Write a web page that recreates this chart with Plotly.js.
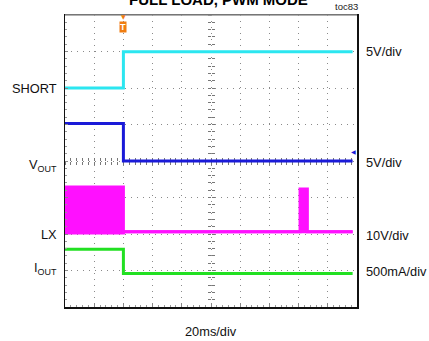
<!DOCTYPE html>
<html>
<head>
<meta charset="utf-8">
<script src="https://cdn.plot.ly/plotly-3.0.1.min.js"></script>
<style>html,body{margin:0;padding:0;background:#fff;}#chart{width:429px;height:341px;}</style>
</head>
<body>
<div id="chart"></div>
<script>
// Time in ms (20 ms/div, 10 divisions); levels in screen divisions (-4..4)
const short_t = [0, 40, 40, 197];
const short_v = [2.0, 2.0, 2.99, 2.99];
const vout_t = [0, 40, 40, 197];
const vout_v = [1.03, 1.03, 0.0, 0.0];
const lx_t = [0, 40, 40, 161, 161, 166, 166, 197];
const lx_lo = [-1.97, -1.97, -1.94, -1.94, -1.95, -1.95, -1.94, -1.94];
const lx_hi = [-0.71, -0.71, -1.94, -1.94, -0.77, -0.77, -1.94, -1.94];
const iout_t = [0, 40, 40, 197];
const iout_v = [-2.42, -2.42, -3.08, -3.08];

const leftLabels = ['SHORT', 'V<sub>OUT</sub>', 'LX', 'I<sub>OUT</sub>'];
const leftLabelY = [2.0, -0.12, -2.0, -2.95];
const rightLabels = ['5V/div', '5V/div', '10V/div', '500mA/div'];
const rightLabelY = [3.0, -0.05, -2.05, -3.04];

const FONT = 'Liberation Sans, Arial, sans-serif';

const traces = [
  {x: short_t, y: short_v, mode: 'lines', line: {color: '#2BE6F0', width: 3}, hoverinfo: 'skip'},
  {x: vout_t, y: vout_v, mode: 'lines', line: {color: '#1A1AD8', width: 3}, hoverinfo: 'skip'},
  {x: lx_t, y: lx_lo, mode: 'lines', line: {color: '#FF10FF', width: 3}, hoverinfo: 'skip'},
  {x: lx_t, y: lx_hi, mode: 'lines', line: {color: '#FF10FF', width: 3}, fill: 'tonexty', fillcolor: '#FF10FF', hoverinfo: 'skip'},
  {x: iout_t, y: iout_v, mode: 'lines', line: {color: '#22E022', width: 3}, hoverinfo: 'skip'},
  // dummy traces to register centre graticule axes
  {x: [0], y: [0], xaxis: 'x2', yaxis: 'y', mode: 'markers', marker: {size: 0, opacity: 0}, hoverinfo: 'skip'},
  {x: [0], y: [0], xaxis: 'x3', yaxis: 'y', mode: 'markers', marker: {size: 0, opacity: 0}, hoverinfo: 'skip'},
  {x: [0], y: [0], xaxis: 'x', yaxis: 'y2', mode: 'markers', marker: {size: 0, opacity: 0}, hoverinfo: 'skip'},
  {x: [0], y: [0], xaxis: 'x', yaxis: 'y3', mode: 'markers', marker: {size: 0, opacity: 0}, hoverinfo: 'skip'}
];

const centerX = (ticks) => ({
  overlaying: 'x', anchor: 'free', position: 0.5, range: [0, 200],
  showgrid: false, zeroline: false, showline: false, showticklabels: false,
  ticks: ticks, ticklen: 3, tickcolor: '#777', tick0: 0, dtick: 4, layer: 'below traces'
});
const centerY = (ticks) => ({
  overlaying: 'y', anchor: 'free', position: 0.5, range: [-4, 4],
  showgrid: false, zeroline: false, showline: false, showticklabels: false,
  ticks: ticks, ticklen: 3, tickcolor: '#777', tick0: 0, dtick: 0.2, layer: 'below traces'
});

const annotations = [];
leftLabels.forEach((t, i) => annotations.push({
  text: t, xref: 'paper', yref: 'y', x: 0, y: leftLabelY[i], xanchor: 'right', yanchor: 'middle',
  xshift: -6, showarrow: false, font: {family: FONT, size: 12.8, color: '#111'}
}));
rightLabels.forEach((t, i) => annotations.push({
  text: t, xref: 'paper', yref: 'y', x: 1, y: rightLabelY[i], xanchor: 'left', yanchor: 'middle',
  xshift: 7, showarrow: false, font: {family: FONT, size: 12.8, color: '#111'}
}));
annotations.push({text: '<b>FULL LOAD, PWM MODE</b>', xref: 'paper', yref: 'paper', x: 0.524, y: 1.017,
  xanchor: 'center', yanchor: 'bottom', showarrow: false, font: {family: FONT, size: 15, color: '#000'}});
annotations.push({text: 'toc83', xref: 'paper', yref: 'paper', x: 1.01, y: 1.028,
  xanchor: 'right', yanchor: 'middle', showarrow: false, font: {family: FONT, size: 9.5, color: '#222'}});
annotations.push({text: '20ms/div', xref: 'paper', yref: 'paper', x: 0.5, y: -0.085,
  xanchor: 'center', yanchor: 'middle', showarrow: false, font: {family: FONT, size: 12.8, color: '#111'}});
annotations.push({text: '▼', xref: 'x', yref: 'paper', x: 40, y: 0.995,
  xanchor: 'center', yanchor: 'middle', showarrow: false, font: {family: 'DejaVu Sans', size: 6, color: '#F07D10'}});
annotations.push({text: '<b>T</b>', xref: 'x', yref: 'paper', x: 40, y: 0.96,
  xanchor: 'center', yanchor: 'middle', showarrow: false, bgcolor: '#F07D10', borderpad: 0,
  font: {family: FONT, size: 9, color: '#fff'}});
annotations.push({text: '◀', xref: 'paper', yref: 'y', x: 1, y: 0.25,
  xanchor: 'right', yanchor: 'middle', showarrow: false, xshift: 1, font: {family: 'DejaVu Sans', size: 6, color: '#1A1AD8'}});

const layout = {
  width: 429, height: 341,
  margin: {l: 65, r: 72, t: 15, b: 34, pad: 0},
  paper_bgcolor: '#fff', plot_bgcolor: '#fff',
  showlegend: false,
  xaxis: {range: [0, 200], showgrid: true, gridcolor: '#8a8a8a', griddash: '1px,5px', gridwidth: 1,
    tick0: 0, dtick: 20, zeroline: false, showline: true, linecolor: '#111', linewidth: 1.5, mirror: true,
    ticks: 'inside', ticklen: 3, tickcolor: '#888', showticklabels: false,
    minor: {dtick: 4, ticks: 'inside', ticklen: 2, tickcolor: '#999', showgrid: false}},
  yaxis: {range: [-4, 4], showgrid: true, gridcolor: '#8a8a8a', griddash: '1px,5px', gridwidth: 1,
    tick0: 0, dtick: 1, zeroline: false, showline: true, linecolor: '#111', linewidth: 1.5, mirror: true,
    ticks: 'inside', ticklen: 3, tickcolor: '#888', showticklabels: false,
    minor: {dtick: 0.2, ticks: 'inside', ticklen: 2, tickcolor: '#999', showgrid: false}},
  xaxis2: centerX('inside'),
  xaxis3: centerX('outside'),
  yaxis2: centerY('inside'),
  yaxis3: centerY('outside'),
  shapes: [
    {type: 'line', xref: 'paper', yref: 'paper', x0: 0, x1: 1, y0: 1, y1: 1, line: {color: '#999', width: 1.5}, layer: 'above'}
  ],
  annotations: annotations
};

Plotly.newPlot('chart', traces, layout, {staticPlot: true, displayModeBar: false});
</script>
</body>
</html>
